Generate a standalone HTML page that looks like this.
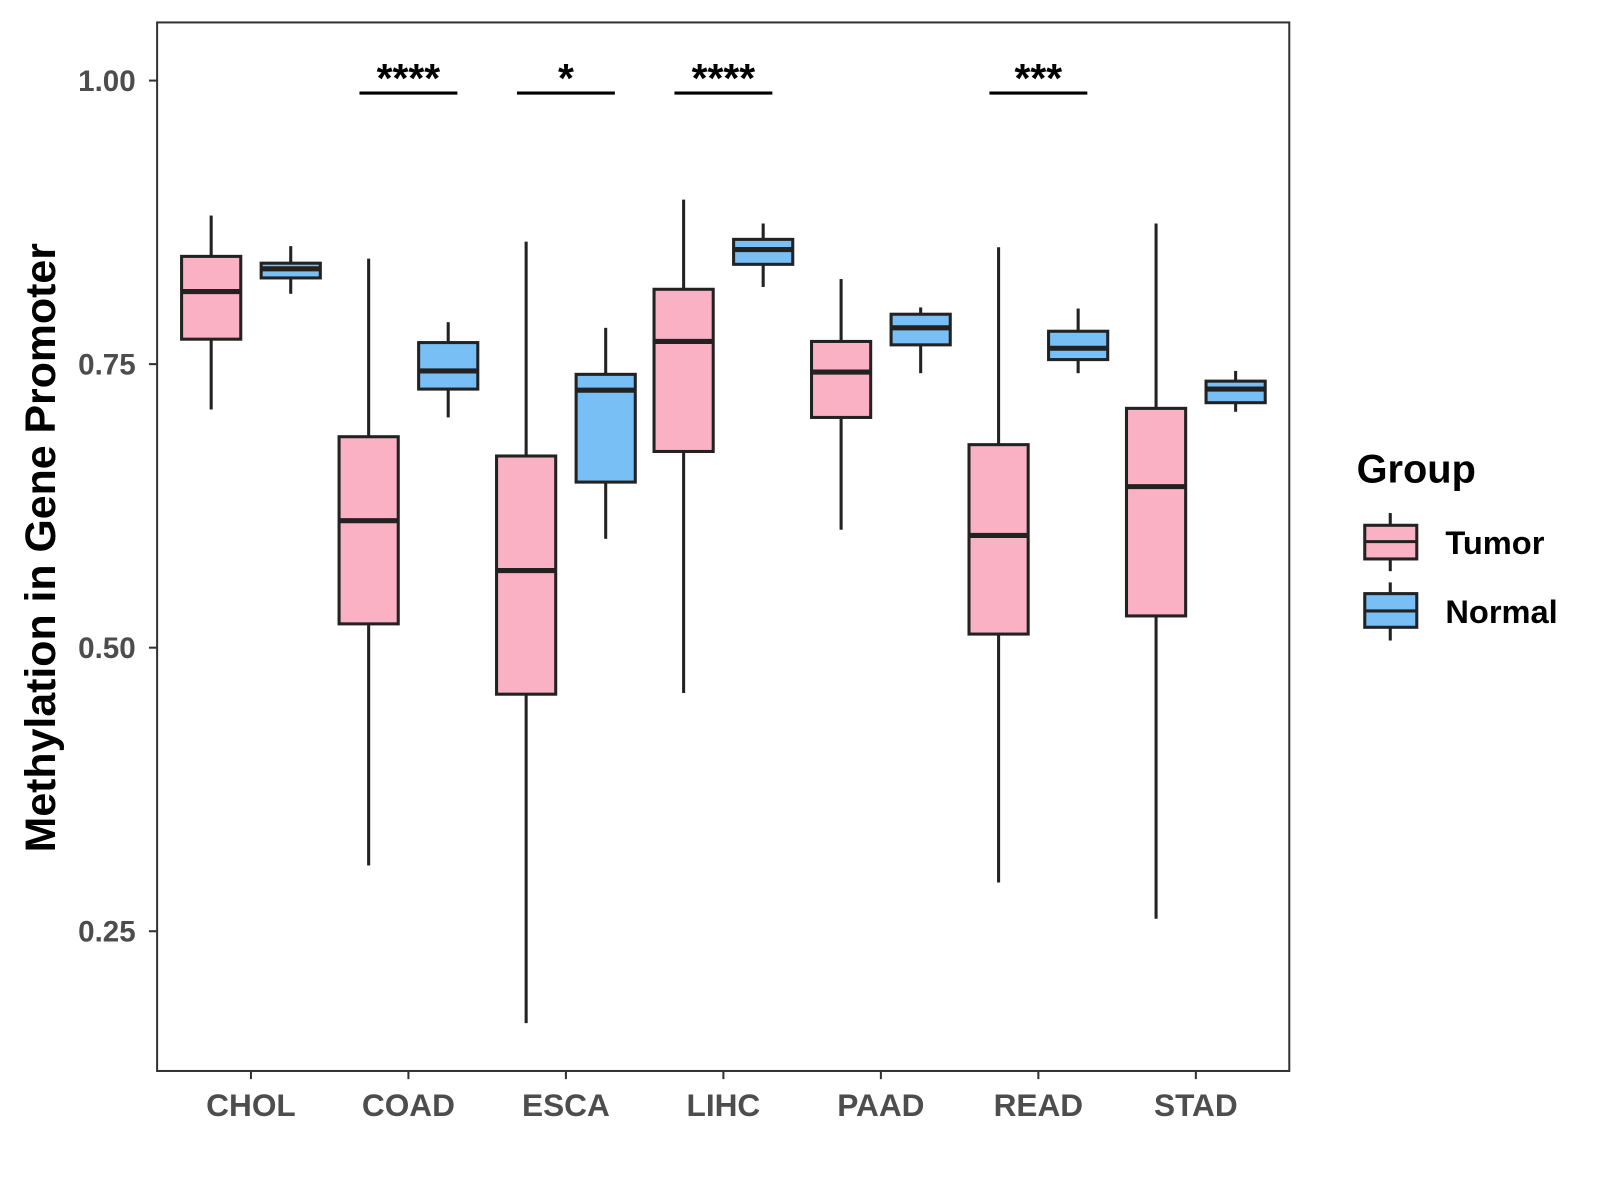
<!DOCTYPE html>
<html><head><meta charset="utf-8"><style>html,body{margin:0;padding:0;background:#fff}svg{display:block}</style></head>
<body>
<svg id="chart" width="1600" height="1200" viewBox="0 0 1568.6 1176.5" xmlns="http://www.w3.org/2000/svg" font-family="Liberation Sans, Arial, sans-serif">
<rect x="0" y="0" width="1568.6" height="1176.5" fill="#fff"/>
<g id="plot"></g>
<rect x="154" y="22" width="1110" height="1028" fill="none" stroke="#333" stroke-width="2"/>
<text transform="translate(54,537) rotate(-90)" text-anchor="middle" font-size="42" font-weight="bold" fill="#000">Methylation in Gene Promoter</text>
<g>
<text x="1330" y="473" font-size="39" font-weight="bold" fill="#000">Group</text>
<g>
<line x1="1363" y1="503" x2="1363" y2="560" stroke="#222" stroke-width="3"/>
<rect x="1338" y="515" width="51" height="33" fill="#FBB1C4" stroke="#222" stroke-width="3"/>
<line x1="1338" y1="531" x2="1389" y2="531" stroke="#222" stroke-width="3"/>
<text x="1417" y="543" font-size="32" font-weight="bold" fill="#000">Tumor</text>
</g>
<g>
<line x1="1363" y1="571" x2="1363" y2="628" stroke="#222" stroke-width="3"/>
<rect x="1338" y="582" width="51" height="33" fill="#78BFF5" stroke="#222" stroke-width="3"/>
<line x1="1338" y1="599" x2="1389" y2="599" stroke="#222" stroke-width="3"/>
<text x="1417" y="611" font-size="32" font-weight="bold" fill="#000">Normal</text>
</g>
</g>
</svg>
<script>
const categories = ["CHOL","COAD","ESCA","LIHC","PAAD","READ","STAD"];
// [lowWhisker, Q1, median, Q3, highWhisker]
const tumorStats = [
 [0.710,0.772,0.814,0.845,0.881],
 [0.308,0.521,0.612,0.686,0.843],
 [0.169,0.459,0.568,0.669,0.858],
 [0.460,0.673,0.770,0.816,0.895],
 [0.604,0.703,0.743,0.770,0.825],
 [0.293,0.512,0.599,0.679,0.853],
 [0.261,0.528,0.642,0.711,0.874]
];
const normalStats = [
 [0.812,0.826,0.834,0.839,0.854],
 [0.703,0.728,0.744,0.769,0.787],
 [0.596,0.646,0.727,0.741,0.782],
 [0.818,0.838,0.851,0.860,0.874],
 [0.742,0.767,0.782,0.794,0.800],
 [0.742,0.754,0.764,0.779,0.799],
 [0.708,0.716,0.728,0.735,0.744]
];
const significance = ["","****","*","****","","***",""];
const yTicks = [0.25,0.50,0.75,1.00];
const yTickLabels = ["0.25","0.50","0.75","1.00"];

const NS="http://www.w3.org/2000/svg";
const g=document.getElementById('plot');
function yScale(v){return 79+(1-v)*1112;}
function xScale(i){return 246+i*154.4;}
function mk(tag,attrs,parent){const e=document.createElementNS(NS,tag);for(const k in attrs)e.setAttribute(k,attrs[k]);(parent||g).appendChild(e);return e;}

yTicks.forEach((t,i)=>{
  const y=yScale(t);
  const tk=mk('line',{x1:146,x2:154,y1:y,y2:y,stroke:'#333','stroke-width':2});
  
  
  const tx=mk('text',{x:133,y:y+10,'text-anchor':'end','font-size':29,'font-weight':'bold',fill:'#4d4d4d'});
  tx.textContent=yTickLabels[i];
  
  
});
categories.forEach((c,i)=>{
  const x=xScale(i);
  const tk=mk('line',{x1:x,x2:x,y1:1050,y2:1058,stroke:'#333','stroke-width':2});
  
  
  const tx=mk('text',{x:x,y:1094,'text-anchor':'middle','font-size':31,'font-weight':'bold',fill:'#4d4d4d'});
  tx.textContent=c;
  
  
});
function drawBox(s,cx,fill,name){
  const bg=mk('g',{});
  
  
  const hw=29;
  mk('line',{x1:cx,x2:cx,y1:yScale(s[4]),y2:yScale(s[3]),stroke:'#222','stroke-width':3},bg);
  mk('line',{x1:cx,x2:cx,y1:yScale(s[1]),y2:yScale(s[0]),stroke:'#222','stroke-width':3},bg);
  mk('rect',{x:cx-hw,y:yScale(s[3]),width:2*hw,height:yScale(s[1])-yScale(s[3]),fill:fill,stroke:'#222','stroke-width':3},bg);
  mk('line',{x1:cx-hw,x2:cx+hw,y1:yScale(s[2]),y2:yScale(s[2]),stroke:'#222','stroke-width':5},bg);
}
categories.forEach((c,i)=>{
  const x=xScale(i);
  drawBox(tumorStats[i],x-39,'#FBB1C4','box-tumor-'+c.toLowerCase());
  drawBox(normalStats[i],x+39,'#78BFF5','box-normal-'+c.toLowerCase());
  if(significance[i]){
    const ln=mk('line',{x1:x-48,x2:x+48,y1:yScale(0.989),y2:yScale(0.989),stroke:'#000','stroke-width':3});
    
    
    const tx=mk('text',{x:x,y:yScale(0.989)-1,'text-anchor':'middle','font-size':40,'font-weight':'bold',fill:'#000'});
    tx.textContent=significance[i];
    
    
  }
});
</script>
</body></html>
